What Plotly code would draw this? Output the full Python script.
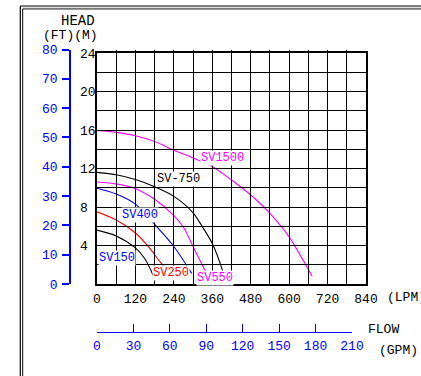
import plotly.graph_objects as go

W, H = 421, 376

# ---- data ----
lpm_ticks = [0, 120, 240, 360, 480, 600, 720, 840]
head_ticks = [4, 8, 12, 16, 20, 24]
ft_ticks = [0, 10, 20, 30, 40, 50, 60, 70, 80]
gpm_ticks = [0, 30, 60, 90, 120, 150, 180, 210]

sv150_q = [0, 60, 120, 150, 170, 182]
sv150_h = [5.6, 5.0, 3.75, 2.6, 1.3, 0.4]
sv250_q = [0, 60, 120, 160, 190, 215, 228]
sv250_h = [7.5, 6.65, 5.3, 3.9, 2.6, 1.5, 0.7]
sv400_q = [0, 60, 120, 180, 240, 296]
sv400_h = [9.95, 9.35, 8.3, 6.2, 3.9, 1.1]
sv550_q = [0, 60, 120, 180, 240, 270, 300, 330, 343]
sv550_h = [10.6, 10.4, 9.9, 8.8, 7.1, 5.9, 3.9, 1.9, 1.0]
sv750_q = [0, 60, 120, 180, 240, 300, 330, 360, 390, 395]
sv750_h = [11.6, 11.35, 10.85, 10.1, 9.1, 7.4, 5.9, 4.2, 1.6, 1.0]
sv1500_q = [0, 60, 120, 180, 240, 300, 360, 420, 480, 540, 600, 660, 672]
sv1500_h = [15.95, 15.75, 15.4, 14.8, 13.9, 13.1, 12.2, 10.8, 9.25, 7.35, 4.9, 1.5, 0.8]

series = [
    ("SV150", sv150_q, sv150_h, "#000000"),
    ("SV250", sv250_q, sv250_h, "#ff0000"),
    ("SV400", sv400_q, sv400_h, "#0000ff"),
    ("SV550", sv550_q, sv550_h, "#ff00ff"),
    ("SV-750", sv750_q, sv750_h, "#000000"),
    ("SV1500", sv1500_q, sv1500_h, "#ff00ff"),
]

# label placement (layout): name, flow, head, color
labels = [
    ("SV1500", 393, 13.1, "#ff00ff"),
    ("SV-750", 256, 10.9, "#000000"),
    ("SV400", 134, 7.2, "#0000ff"),
    ("SV150", 62, 2.65, "#0000ff"),
    ("SV250", 231, 1.14, "#ff0000"),
    ("SV550", 367, 0.62, "#ff00ff"),
]

FONT = "Liberation Mono"
BLUE = "#0000ff"


def fx(p):
    return p / W


def fy(p):
    return 1 - p / H


fig = go.Figure()
for name, q, h, c in series:
    fig.add_trace(go.Scatter(x=q, y=h, mode="lines", name=name,
                             line=dict(color=c, width=1.1, shape="spline", smoothing=0.8),
                             showlegend=False, hoverinfo="skip"))

# invisible traces to bind the secondary axes
fig.add_trace(go.Scatter(x=gpm_ticks, y=[None] * len(gpm_ticks), xaxis="x2", yaxis="y",
                         mode="markers", showlegend=False, hoverinfo="skip"))
fig.add_trace(go.Scatter(x=[None] * len(ft_ticks), y=ft_ticks, xaxis="x", yaxis="y2",
                         mode="markers", showlegend=False, hoverinfo="skip"))

for name, q, h, c in labels:
    fig.add_annotation(x=q, y=h, text=name, showarrow=False, xref="x", yref="y",
                       xanchor="center", yanchor="middle",
                       font=dict(family=FONT, size=12, color=c), bgcolor="white", borderpad=0)

ann_font = dict(family=FONT, size=13, color="black")
fig.add_annotation(x=fx(78), y=fy(21), xref="paper", yref="paper", text="HEAD",
                   xanchor="center", yanchor="middle",
                   showarrow=False, font=dict(family=FONT, size=14, color="black"))
fig.add_annotation(x=fx(70), y=fy(36), xref="paper", yref="paper", text="(FT)(M)",
                   xanchor="center", yanchor="middle", showarrow=False, font=ann_font)
fig.add_annotation(x=fx(385), y=fy(297.5), xref="paper", yref="paper", text="(LPM)",
                   xanchor="left", yanchor="middle", showarrow=False, font=ann_font)
fig.add_annotation(x=fx(366), y=fy(329), xref="paper", yref="paper", text="FLOW",
                   xanchor="left", yanchor="middle", showarrow=False, font=ann_font)
fig.add_annotation(x=fx(377), y=fy(350), xref="paper", yref="paper", text="(GPM)",
                   xanchor="left", yanchor="middle", showarrow=False, font=ann_font)

# outer frame (double lines)
fig.add_shape(type="line", xref="paper", yref="paper", x0=fx(20.3), x1=fx(421), y0=fy(6), y1=fy(6),
              line=dict(color="black", width=1.2))
fig.add_shape(type="line", xref="paper", yref="paper", x0=fx(22.7), x1=fx(421), y0=fy(8.8), y1=fy(8.8),
              line=dict(color="#777777", width=2))
fig.add_shape(type="line", xref="paper", yref="paper", x0=fx(20.3), x1=fx(20.3), y0=fy(6), y1=fy(376),
              line=dict(color="black", width=1.2))
fig.add_shape(type="line", xref="paper", yref="paper", x0=fx(22.7), x1=fx(22.7), y0=fy(8.8), y1=fy(376),
              line=dict(color="black", width=1))

fig.update_layout(
    width=W, height=H, margin=dict(l=0, r=0, t=0, b=0),
    paper_bgcolor="white", plot_bgcolor="rgba(0,0,0,0)",
    showlegend=False,
    xaxis=dict(domain=[fx(97), fx(366)], range=[0, 840], tickvals=lpm_ticks,
               showgrid=True, gridcolor="black", gridwidth=1.3,
               minor=dict(dtick=60, showgrid=True, gridcolor="black", gridwidth=1.3),
               showline=True, linecolor="black", linewidth=1.5, mirror=True,
               ticks="", ticklabelstandoff=2, zeroline=False, automargin=False,
               tickfont=dict(family=FONT, size=13, color="black"), anchor="y"),
    yaxis=dict(domain=[fy(284), fy(53)], range=[0, 24], tickvals=head_ticks,
               ticktext=[("%d" % v) if v >= 10 else ("%d\u2007" % v) for v in head_ticks],
               showgrid=True, gridcolor="black", gridwidth=1.3,
               minor=dict(dtick=2, showgrid=True, gridcolor="black", gridwidth=1.3),
               showline=True, linecolor="black", linewidth=1.5, mirror=True,
               ticks="", ticklabelstandoff=-3, zeroline=False, automargin=False,
               tickfont=dict(family=FONT, size=13, color="black"), anchor="x"),
    xaxis2=dict(domain=[fx(97), fx(352)], range=[0, 210], tickvals=gpm_ticks,
                anchor="free", position=fy(332.3), side="bottom",
                showgrid=False, zeroline=False, showline=True, linecolor=BLUE, linewidth=1.2,
                ticks="inside", ticklen=8, tickcolor=BLUE, tickwidth=1.2,
                ticklabelstandoff=1, automargin=False,
                tickfont=dict(family=FONT, size=13, color=BLUE)),
    yaxis2=dict(domain=[fy(284), fy(49.5)], range=[0, 80], tickvals=ft_ticks,
                anchor="free", position=fx(70), side="left",
                showgrid=False, zeroline=False, showline=True, linecolor=BLUE, linewidth=1.5,
                ticks="outside", ticklen=7, tickcolor=BLUE, tickwidth=1.5,
                ticklabelstandoff=2, automargin=False,
                tickfont=dict(family=FONT, size=13, color=BLUE)),
)

fig.write_html("out.html", config={"displayModeBar": False},
               post_script="document.body.style.margin='0px';")
